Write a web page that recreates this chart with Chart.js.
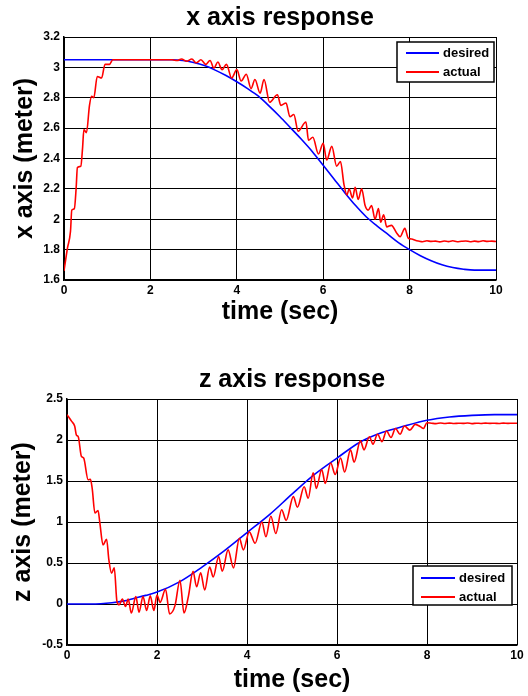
<!DOCTYPE html>
<html>
<head>
<meta charset="utf-8">
<script src="https://cdn.jsdelivr.net/npm/chart.js@4.4.0/dist/chart.umd.min.js"></script>
<style>
  body { margin: 0; background: #fff; }
  .panel { position: absolute; left: 0; width: 528px; }
  canvas { display: block; }
</style>
</head>
<body>
<div class="panel" style="top:0;height:340px"><canvas id="xChart" width="528" height="340"></canvas></div>
<div class="panel" style="top:360px;height:336px"><canvas id="zChart" width="528" height="336"></canvas></div>
<script>
const seriesNames = ["desired", "actual"];
const timeTicks = [0, 2, 4, 6, 8, 10];
const xAxisTicks = [1.6, 1.8, 2, 2.2, 2.4, 2.6, 2.8, 3, 3.2];
const zAxisTicks = [-0.5, 0, 0.5, 1, 1.5, 2, 2.5];

// x axis: desired trajectory
const xDesTime = [0, 0.5, 1, 1.5, 2, 2.5, 2.75, 3, 3.25, 3.5, 3.75, 4, 4.25, 4.5, 4.75, 5, 5.25, 5.5, 5.75, 6,
  6.25, 6.5, 6.75, 7, 7.25, 7.5, 7.75, 8, 8.25, 8.5, 8.75, 9, 9.25, 9.5, 10];
const xDesired = [3.05, 3.05, 3.05, 3.05, 3.05, 3.05, 3.045, 3.032, 3.012, 2.982, 2.946, 2.905, 2.86, 2.81, 2.745, 2.675, 2.6, 2.525, 2.445, 2.355,
  2.265, 2.175, 2.09, 2.015, 1.955, 1.9, 1.845, 1.8, 1.76, 1.727, 1.7, 1.682, 1.671, 1.665, 1.665];

// x axis: actual response
const xActTime = [0, 0.08, 0.15, 0.18, 0.24, 0.28, 0.31, 0.39, 0.43, 0.46,
  0.52, 0.59, 0.64, 0.69, 0.77, 0.87, 0.95, 1.05, 1.13, 1.5,
  2.0, 2.5, 2.62, 2.72, 2.84, 2.96, 3.06, 3.17, 3.28, 3.38,
  3.47, 3.56, 3.66, 3.76, 3.88, 4.0, 4.1, 4.22, 4.33, 4.42,
  4.54, 4.63, 4.76, 4.94, 5.02, 5.14, 5.23, 5.32, 5.42, 5.6,
  5.66, 5.76, 5.89, 6.0, 6.08, 6.2, 6.31, 6.4, 6.48, 6.55,
  6.6, 6.68, 6.74, 6.81, 6.89, 6.97, 7.04, 7.12, 7.2, 7.28,
  7.33, 7.4, 7.47, 7.58, 7.7, 7.78, 7.89, 7.97, 8.05, 8.13,
  8.2, 8.3, 8.4, 8.5, 8.6, 8.7, 8.8, 8.9, 9.0, 9.1,
  9.2, 9.3, 9.4, 9.5, 9.6, 9.7, 9.8, 9.9, 10.0];
const xActual = [1.66, 1.81, 1.92, 2.06, 2.07, 2.2, 2.34, 2.35, 2.47, 2.59,
  2.57, 2.75, 2.81, 2.8, 2.94, 2.93, 3.02, 3.02, 3.05, 3.05,
  3.05, 3.05, 3.045, 3.055, 3.04, 3.055, 3.03, 3.05, 3.02, 3.045,
  2.995, 3.035, 2.985, 3.02, 2.93, 2.985, 2.91, 2.955, 2.86, 2.92,
  2.83, 2.92, 2.77, 2.82, 2.75, 2.765, 2.675, 2.69, 2.58, 2.64,
  2.52, 2.54, 2.43, 2.5, 2.39, 2.48, 2.35, 2.38, 2.23, 2.16,
  2.2, 2.14, 2.21, 2.13, 2.2, 2.09, 2.06, 2.09, 2.0, 2.07,
  1.98, 2.03, 1.95, 1.96, 1.91, 1.885, 1.94, 1.875, 1.87, 1.862,
  1.857, 1.852, 1.858, 1.854, 1.856, 1.851, 1.857, 1.853, 1.858, 1.852,
  1.855, 1.857, 1.852, 1.856, 1.853, 1.858, 1.854, 1.856, 1.853];

// z axis: desired trajectory
const zDesTime = [0, 0.5, 0.75, 1, 1.25, 1.5, 1.75, 2, 2.5, 3, 3.5, 4, 4.5, 5, 5.5, 6, 6.5, 7, 7.5, 8, 8.5, 9, 9.5, 10];
const zDesired = [0, 0, 0.003, 0.015, 0.035, 0.07, 0.105, 0.145, 0.27, 0.45, 0.65, 0.87, 1.09, 1.34, 1.58, 1.78, 1.97, 2.09, 2.17, 2.24, 2.28, 2.3, 2.31, 2.31];

// z axis: actual response
const zActTime = [0, 0.1, 0.17, 0.21, 0.25, 0.32, 0.37, 0.47, 0.52, 0.56,
  0.62, 0.69, 0.73, 0.8, 0.88, 0.93, 0.99, 1.05, 1.11, 1.16,
  1.23, 1.3, 1.36, 1.43, 1.53, 1.6, 1.69, 1.77, 1.85, 1.93,
  2.0, 2.07, 2.19, 2.28, 2.4, 2.51, 2.6, 2.7, 2.8, 2.88,
  2.97, 3.06, 3.17, 3.25, 3.37, 3.45, 3.58, 3.7, 3.83, 3.92,
  4.05, 4.18, 4.33, 4.42, 4.53, 4.64, 4.77, 4.87, 5.03, 5.12,
  5.27, 5.36, 5.47, 5.54, 5.66, 5.74, 5.86, 5.96, 6.08, 6.17,
  6.3, 6.38, 6.52, 6.6, 6.72, 6.8, 6.9, 7.0, 7.1, 7.2,
  7.3, 7.4, 7.5, 7.62, 7.74, 7.86, 7.92, 8.0,
  8.1, 8.2, 8.3, 8.4, 8.5, 8.6, 8.7, 8.8, 8.9, 9.0,
  9.1, 9.2, 9.3, 9.4, 9.5, 9.6, 9.7, 9.8, 9.9, 10.0];
const zActual = [2.31, 2.23, 2.17, 2.06, 2.04, 1.8, 1.78, 1.515, 1.52, 1.41,
  1.11, 1.14, 0.99, 0.72, 0.79, 0.54, 0.375, 0.44, 0.03, -0.01,
  0.06, -0.03, 0.06, -0.11, 0.09, -0.1, 0.09, -0.08, 0.1, -0.08,
  0.11, 0.02, 0.18, -0.12, -0.02, 0.29, -0.11, 0.1, 0.4, 0.21,
  0.38, 0.17, 0.45, 0.33, 0.58, 0.4, 0.66, 0.44, 0.8, 0.66,
  0.88, 0.74, 1.0, 0.82, 1.07, 0.86, 1.15, 1.02, 1.31, 1.18,
  1.43, 1.29, 1.6, 1.41, 1.64, 1.47, 1.72, 1.58, 1.78, 1.61,
  1.88, 1.73, 1.99, 1.88, 2.04, 1.95, 2.07, 1.98, 2.11, 2.03,
  2.14, 2.07, 2.17, 2.12, 2.19, 2.16, 2.14, 2.21,
  2.205, 2.2, 2.207, 2.202, 2.206, 2.201, 2.205, 2.203, 2.207, 2.2,
  2.205, 2.202, 2.206, 2.203, 2.205, 2.201, 2.206, 2.203, 2.205, 2.204];

const FONT = '"Liberation Sans", Arial, sans-serif';

const pairs = (ts, vs) => ts.map((t, i) => ({ x: t, y: vs[i] }));

// boxed legend drawn inside the plot, matlab style
const boxLegend = {
  id: "boxLegend",
  afterDatasetsDraw(chart, args, opts) {
    const ctx = chart.ctx;
    const { x, y, w, h } = opts;
    ctx.save();
    ctx.fillStyle = "#fff";
    ctx.fillRect(x, y, w, h);
    ctx.lineWidth = 1.5;
    ctx.strokeStyle = "#000";
    ctx.strokeRect(x, y, w, h);
    ctx.font = "bold 13px " + FONT;
    ctx.textBaseline = "middle";
    chart.data.datasets.forEach((ds, i) => {
      const ry = y + opts.rowTop + i * opts.rowGap;
      ctx.strokeStyle = ds.borderColor;
      ctx.lineWidth = 2;
      ctx.beginPath();
      ctx.moveTo(x + opts.lineX, ry);
      ctx.lineTo(x + opts.lineX + opts.lineLen, ry);
      ctx.stroke();
      ctx.fillStyle = "#000";
      ctx.fillText(ds.label, x + opts.textX, ry);
    });
    ctx.restore();
  },
};

function makeChart(id, o) {
  const tickFont = { family: FONT, size: 12, weight: "bold" };
  const bigFont = { family: FONT, size: 25, weight: "bold" };
  return new Chart(document.getElementById(id), {
    type: "line",
    data: {
      datasets: [
        {
          label: seriesNames[0],
          data: pairs(o.desT, o.des),
          borderColor: "#0000ff",
          borderWidth: 1.6,
          pointRadius: 0,
          cubicInterpolationMode: "monotone",
          order: 1,
        },
        {
          label: seriesNames[1],
          data: pairs(o.actT, o.act),
          borderColor: "#ff0000",
          borderWidth: 1.6,
          pointRadius: 0,
          cubicInterpolationMode: "monotone",
          order: 0,
        },
      ],
    },
    options: {
      responsive: false,
      animation: false,
      events: [],
      layout: { padding: { left: 0, right: o.padRight, top: 0, bottom: 0 } },
      plugins: {
        legend: { display: false },
        tooltip: { enabled: false },
        title: {
          display: true,
          text: o.title,
          fullSize: false,
          color: "#000",
          font: bigFont,
          padding: { top: o.titleTop, bottom: o.titleBottom },
        },
        boxLegend: o.legend,
      },
      scales: {
        x: {
          type: "linear",
          min: 0,
          max: 10,
          afterBuildTicks: (s) => { s.ticks = timeTicks.map((v) => ({ value: v })); },
          afterFit: (s) => { s.height = o.xAxisHeight; },
          ticks: { color: "#000", font: tickFont, padding: 3, maxRotation: 0, autoSkip: false, callback: (v) => String(v) },
          grid: { color: "#000", lineWidth: 1, drawTicks: false },
          border: { color: "#000", width: 1.5 },
          title: { display: true, text: "time (sec)", color: "#000", font: bigFont, padding: { top: 0, bottom: o.xTitleBottom } },
        },
        y: {
          type: "linear",
          min: o.yTicks[0],
          max: o.yTicks[o.yTicks.length - 1],
          afterBuildTicks: (s) => { s.ticks = o.yTicks.map((v) => ({ value: v })); },
          afterFit: (s) => { s.width = o.yAxisWidth; },
          ticks: { color: "#000", font: tickFont, padding: 4, autoSkip: false, callback: (v) => String(v) },
          grid: { color: "#000", lineWidth: 1, drawTicks: false },
          border: { color: "#000", width: 1.5 },
          title: { display: true, text: o.yTitle, color: "#000", font: bigFont, padding: { top: o.yTitleLeft, bottom: 0 } },
        },
      },
    },
    plugins: [boxLegend],
  });
}

makeChart("xChart", {
  title: "x axis response",
  yTitle: "x axis (meter)",
  yTicks: xAxisTicks,
  desT: xDesTime, des: xDesired,
  actT: xActTime, act: xActual,
  padRight: 32, yAxisWidth: 64, xAxisHeight: 60,
  titleTop: 3, titleBottom: 4, xTitleBottom: 13, yTitleLeft: 10,
  legend: { x: 397, y: 42, w: 97, h: 40, lineX: 9, lineLen: 33, textX: 46, rowTop: 11, rowGap: 19 },
});

makeChart("zChart", {
  title: "z axis response",
  yTitle: "z axis (meter)",
  yTicks: zAxisTicks,
  desT: zDesTime, des: zDesired,
  actT: zActTime, act: zActual,
  padRight: 11, yAxisWidth: 67, xAxisHeight: 51,
  titleTop: 5, titleBottom: 4, xTitleBottom: 1, yTitleLeft: 8,
  legend: { x: 413, y: 206, w: 99, h: 39, lineX: 8, lineLen: 34, textX: 46, rowTop: 12, rowGap: 19 },
});
</script>
</body>
</html>
